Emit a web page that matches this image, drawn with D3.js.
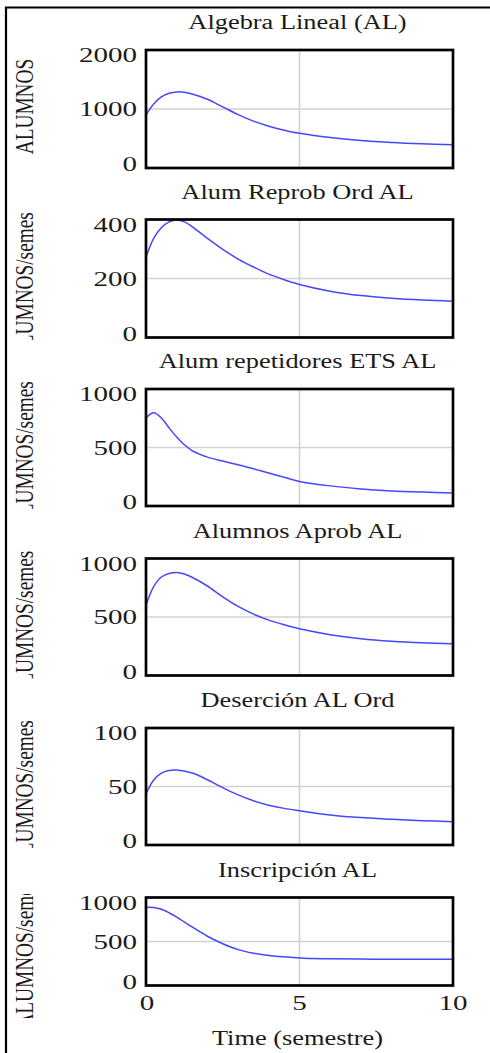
<!DOCTYPE html>
<html>
<head>
<meta charset="utf-8">
<script src="https://cdn.jsdelivr.net/npm/d3@7"></script>
<style>
  html, body { margin: 0; padding: 0; background: #fff; }
  svg { display: block; }
</style>
</head>
<body>
<div id="chart"></div>
<script>
// ---------- DATA ----------
const timeLabel = "Time (semestre)";
const xTicks = [0, 5, 10];

const titles = [
  "Algebra Lineal (AL)",
  "Alum Reprob Ord AL",
  "Alum repetidores ETS AL",
  "Alumnos Aprob AL",
  "Deserción AL Ord",
  "Inscripción AL"
];
const units = [
  "ALUMNOS",
  "ALUMNOS/semestre",
  "ALUMNOS/semestre",
  "ALUMNOS/semestre",
  "ALUMNOS/semestre",
  "ALUMNOS/semestre"
];
const yTicks = [
  [0, 1000, 2000],
  [0, 200, 400],
  [0, 500, 1000],
  [0, 500, 1000],
  [0, 50, 100],
  [0, 500, 1000]
];

const tAL      = [0, 0.25, 0.5, 0.75, 1, 1.25, 1.5, 2, 2.5, 3, 3.5, 4, 4.5, 5, 6, 7, 8, 9, 10];
const algebraLineal = [900, 1085, 1205, 1268, 1290, 1282, 1255, 1165, 1035, 905, 795, 708, 640, 588, 515, 465, 432, 410, 395];

const tRep     = [0, 0.25, 0.5, 0.75, 1, 1.25, 1.5, 2, 2.5, 3, 3.5, 4, 4.5, 5, 6, 7, 8, 9, 10];
const reprobOrd = [272, 336, 372, 392, 398, 392, 376, 336, 299, 266, 239, 215, 196, 180, 157, 142, 133, 127, 123];

const tEts     = [0, 0.25, 0.5, 0.75, 1, 1.25, 1.5, 2, 2.5, 3, 3.5, 4, 4.5, 5, 6, 7, 8, 9, 10];
const repetidoresEts = [752, 797, 752, 668, 590, 523, 474, 418, 384, 352, 318, 282, 245, 210, 172, 146, 129, 119, 112];

const tApr     = [0, 0.25, 0.5, 0.75, 1, 1.25, 1.5, 2, 2.5, 3, 3.5, 4, 4.5, 5, 6, 7, 8, 9, 10];
const aprobados = [600, 760, 842, 872, 880, 868, 840, 765, 672, 590, 525, 473, 433, 399, 349, 315, 293, 279, 271];

const tDes     = [0, 0.25, 0.5, 0.75, 1, 1.5, 2, 2.5, 3, 3.5, 4, 4.5, 5, 6, 7, 8, 9, 10];
const desercion = [43.6, 55.5, 61.5, 63.7, 64.1, 61.5, 55.8, 49.0, 42.8, 37.8, 34.0, 31.3, 29.3, 25.7, 23.4, 22.0, 20.8, 19.9];

const tIns     = [0, 0.25, 0.5, 0.75, 1, 1.5, 2, 2.5, 3, 3.5, 4, 5, 6, 7, 8, 9, 10];
const inscripcion = [890, 886, 866, 827, 778, 665, 560, 475, 408, 367, 340, 313, 304, 300, 298, 297, 297];

const seriesT = [tAL, tRep, tEts, tApr, tDes, tIns];
const seriesV = [algebraLineal, reprobOrd, repetidoresEts, aprobados, desercion, inscripcion];

// ---------- LAYOUT ----------
const W = 490, H = 1053;
const SX = 1.32;             // horizontal glyph stretch of the reference
const X0 = 146, X1 = 453;
const panelTops = [50, 219.5, 389, 558.5, 728, 897.5];
const panelHeights = [118, 118, 117, 117, 117, 88];
const FONT = "Times New Roman, Times, Liberation Serif, Tinos, DejaVu Serif, serif";
const INK = "#1c1a18";

const svg = d3.select("#chart").append("svg")
  .attr("width", W).attr("height", H)
  .attr("font-family", FONT);

// outer border (left + top only visible)
svg.append("path")
  .attr("d", `M6,${H} V7.5 H${W}`)
  .attr("fill", "none").attr("stroke", "#000").attr("stroke-width", 2.2);

const x = d3.scaleLinear().domain([0, 10]).range([X0, X1]);

function stext(g, px, py, str, size, anchor) {
  return g.append("text")
    .attr("transform", `translate(${px},${py}) scale(${SX},1)`)
    .attr("text-anchor", anchor)
    .attr("font-family", FONT)
    .attr("font-size", size)
    .attr("fill", INK)
    .text(str);
}

const defs = svg.append("defs");

titles.forEach((title, i) => {
  const top = panelTops[i], h = panelHeights[i], bottom = top + h;
  const ticks = yTicks[i];
  const y = d3.scaleLinear().domain([ticks[0], ticks[ticks.length - 1]]).range([bottom, top]);
  const g = svg.append("g");

  // title
  stext(g, (X0 + X1) / 2 - 2, top - 21, title, 20, "middle");

  // grid lines
  g.append("line")
    .attr("x1", x(5)).attr("x2", x(5)).attr("y1", top).attr("y2", bottom)
    .attr("stroke", "#d2d2d2").attr("stroke-width", 1.6);
  g.append("line")
    .attr("x1", X0).attr("x2", X1).attr("y1", y(ticks[1])).attr("y2", y(ticks[1]))
    .attr("stroke", "#d2d2d2").attr("stroke-width", 1.6);

  // y tick labels
  ticks.forEach((v, k) => {
    const off = k === 0 ? 3.4 : (k === ticks.length - 1 ? 12.4 : 7.4);
    stext(g, 137, y(v) + off, String(v), 22, "end");
  });

  // series line
  const pts = seriesT[i].map((t, k) => [t, seriesV[i][k]]);
  g.append("path")
    .datum(pts)
    .attr("d", d3.line().x(d => x(d[0])).y(d => y(d[1])).curve(d3.curveCatmullRom.alpha(0.5)))
    .attr("fill", "none").attr("stroke", "#4646ff").attr("stroke-width", 1.5);

  // frame
  g.append("rect")
    .attr("x", X0).attr("y", top).attr("width", X1 - X0).attr("height", h)
    .attr("fill", "none").attr("stroke", "#000").attr("stroke-width", 2.7);

  // y unit label (clipped)
  const last = i === titles.length - 1;
  const clipTop = last ? 894 : (top + bottom) / 2 - 2.5 - 64;
  const clipH = last ? 124 : 128;
  const textC = last ? 943.5 : (top + bottom) / 2 - 2.5;
  const cid = "clip" + i;
  defs.append("clipPath").attr("id", cid)
    .append("rect").attr("x", 0).attr("y", clipTop).attr("width", 50).attr("height", clipH);
  g.append("g").attr("clip-path", `url(#${cid})`)
    .append("text")
    .attr("transform", `translate(33,${textC}) scale(${SX},1) rotate(-90)`)
    .attr("text-anchor", "middle")
    .attr("font-family", FONT)
    .attr("font-size", 19.3)
    .attr("fill", INK)
    .text(units[i]);

  // x axis labels on last panel
  if (last) {
    xTicks.forEach(t => {
      stext(g, x(t) + (t === 0 ? 1 : 0), bottom + 24.5, String(t), 22, "middle");
    });
    stext(g, (X0 + X1) / 2 - 2, 1045, timeLabel, 20, "middle");
  }
});
</script>
</body>
</html>
